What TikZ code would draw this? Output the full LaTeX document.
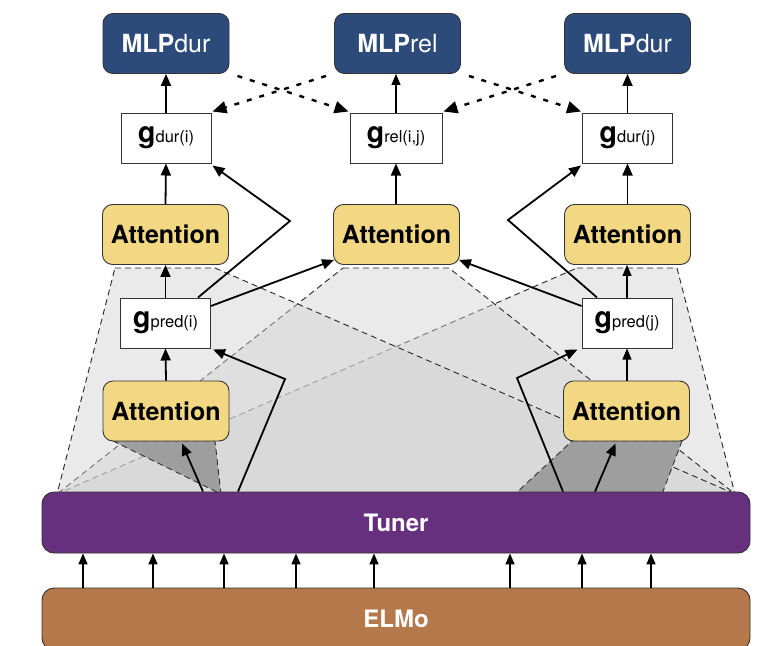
\documentclass[tikz,border=0pt]{standalone}
\usepackage{fontspec}
\setmainfont{TeX Gyre Heros}
\usetikzlibrary{arrows.meta,calc}
\definecolor{mlpblue}{HTML}{2C4A7A}
\definecolor{attyellow}{HTML}{F3D884}
\definecolor{tunerpurple}{HTML}{66307F}
\definecolor{elmobrown}{HTML}{B5784A}
\definecolor{boxline}{HTML}{333333}
\newcommand\mlpname[1]{{\bfseries MLP}#1}
\newcommand\gvar[1]{{\fontsize{29}{29}\selectfont\bfseries g}{\fontsize{16.5}{16.5}\selectfont #1}}
\begin{document}
\begin{tikzpicture}[x=1pt,y=-1pt,
  box/.style={draw=boxline, line width=0.9pt, rounded corners=10pt,
    minimum width=126pt, minimum height=60pt, inner sep=0pt},
  mlp/.style={box, fill=mlpblue, text=white, font=\fontsize{25}{25}\selectfont},
  attn/.style={box, fill=attyellow, font=\fontsize{25}{25}\selectfont\bfseries},
  gbox/.style={draw=boxline, fill=white, line width=1pt,
    minimum width=90pt, minimum height=50pt, inner sep=0pt},
  layer/.style={draw=boxline, line width=0.9pt, rounded corners=12pt,
    minimum width=708pt, minimum height=61pt, inner sep=0pt, text=white,
    font=\fontsize{24}{24}\selectfont\bfseries},
  arr/.style={line width=1.8pt, -{Triangle[length=12pt,width=10pt]}},
  thinarr/.style={line width=1.1pt, -{Triangle[length=11pt,width=9pt]}},
  crossarr/.style={line width=2.4pt, dash pattern=on 5pt off 8pt,
    -{Triangle[length=14pt,width=12pt]}},
  region/.style={fill=black!18, fill opacity=0.45, draw=black!85,
    dash pattern=on 6pt off 4pt, line width=0.9pt},
  focus/.style={fill=black!38, draw=black!80,
    dash pattern=on 6pt off 4pt, line width=0.9pt},
]
\useasboundingbox (0,0) rectangle (762,645);

% attention spans over the token layer (right, middle, left)
\path[region] (577,268) -- (677,268) -- (735,494) -- (57,494) -- cycle;
\path[region] (343,268) -- (449,268) -- (735,494) -- (57,494) -- cycle;
\path[region] (115,268) -- (215,268) -- (735,494) -- (57,494) -- cycle;
% predicate spans
\path[focus] (113,441) -- (215,441) -- (221,494) -- cycle;
\path[focus] (572,441) -- (682,441) -- (662,494) -- (515,494) -- cycle;

% encoder layers
\node[layer, fill=elmobrown, minimum height=62pt] (elmo) at (396,619) {ELMo};
\node[layer, fill=tunerpurple] (tuner) at (396,522.5) {Tuner};

% output MLPs
\node[mlp] (mlpl) at (166,43.5) {\mlpname{dur}};
\node[mlp] (mlpm) at (397.5,43.5) {\mlpname{rel}};
\node[mlp] (mlpr) at (627.5,43.5) {\mlpname{dur}};

% g representations
\node[gbox] (gdi) at (166,138) {\gvar{dur(i)}};
\node[gbox, minimum width=92pt] (grel) at (396,138) {\gvar{rel(i,j)}};
\node[gbox] (gdj) at (627.5,138) {\gvar{dur(j)}};

% upper attention
\node[attn] (attl) at (165.5,234.5) {Attention};
\node[attn] (attm) at (396.5,234.5) {Attention};
\node[attn] (attr) at (627.5,234.5) {Attention};

% predicate representations
\node[gbox] (gpi) at (165.5,323) {\gvar{pred(i)}};
\node[gbox] (gpj) at (627,323) {\gvar{pred(j)}};

% lower attention
\node[attn] (abl) at (166,411) {Attention};
\node[attn] (abr) at (626.5,411) {Attention};

% ELMo -> Tuner
\foreach \x in {83,153,224,296,374,510,582,651}
  \draw[thinarr, line width=1.5pt] (elmo.north -| \x,0) -- (tuner.south -| \x,0);

% Tuner -> lower attention and predicate vectors
\draw[arr] (tuner.north -| 203,0) -- ($(abl.south)+(16,2)$);
\draw[arr] (tuner.north -| 595,0) -- ($(abr.south)+(-11,2)$);
\coordinate (ci) at (285,379);
\coordinate (cj) at (517,378);
\draw[arr] (tuner.north -| 238,0) -- (ci) -- ($(gpi.south east)+(2,1)$);
\draw[arr] (tuner.north -| 563,0) -- (cj) -- ($(gpj.south west)+(-4,1)$);

% vertical flow
\draw[arr] (abl.north) -- (gpi.south);
\draw[arr] (gpi.north) -- (attl.south);
\draw[arr] (attl.north) -- (gdi.south);
\draw[arr] (gdi.north) -- (mlpl.south);
\draw[thinarr] (abr.north -| gpj.south) -- (gpj.south);
\draw[thinarr] (gpj.north) -- (attr.south -| gpj.north);
\draw[arr] (attr.north) -- (gdj.south);
\draw[arr] (gdj.north) -- (mlpr.south);
\draw[arr] (attm.north -| grel.south) -- (grel.south);
\draw[thinarr] (grel.north) -- (mlpm.south -| grel.north);

% predicate vectors -> pair attention and duration vectors
\draw[arr] (gpi.east |- 0,306) -- ($(attm.south west)+(1,-5)$);
\draw[arr] (gpj.west |- 0,306) -- ($(attm.south east)+(-1,-5)$);
\coordinate (di) at (290,221);
\coordinate (dj) at (508,220);
\draw[arr] (gpi.north -| 198,0) -- (di) -- ($(gdi.south east)+(1,2)$);
\draw[arr] (gpj.north -| 597,0) -- (dj) -- ($(gdj.south west)+(-1,2)$);

% crossing feedback
\draw[crossarr] ($(mlpl.south east)+(8,2)$) -- ($(grel.north west)+(-1,-1)$);
\draw[crossarr] ($(mlpm.south west)+(-8,2)$) -- ($(gdi.north east)+(1,-1)$);
\draw[crossarr] ($(mlpm.south east)+(8,2)$) -- ($(gdj.north west)+(-1,-1)$);
\draw[crossarr] ($(mlpr.south west)+(-8,2)$) -- ($(grel.north east)+(1,-1)$);
\end{tikzpicture}
\end{document}
